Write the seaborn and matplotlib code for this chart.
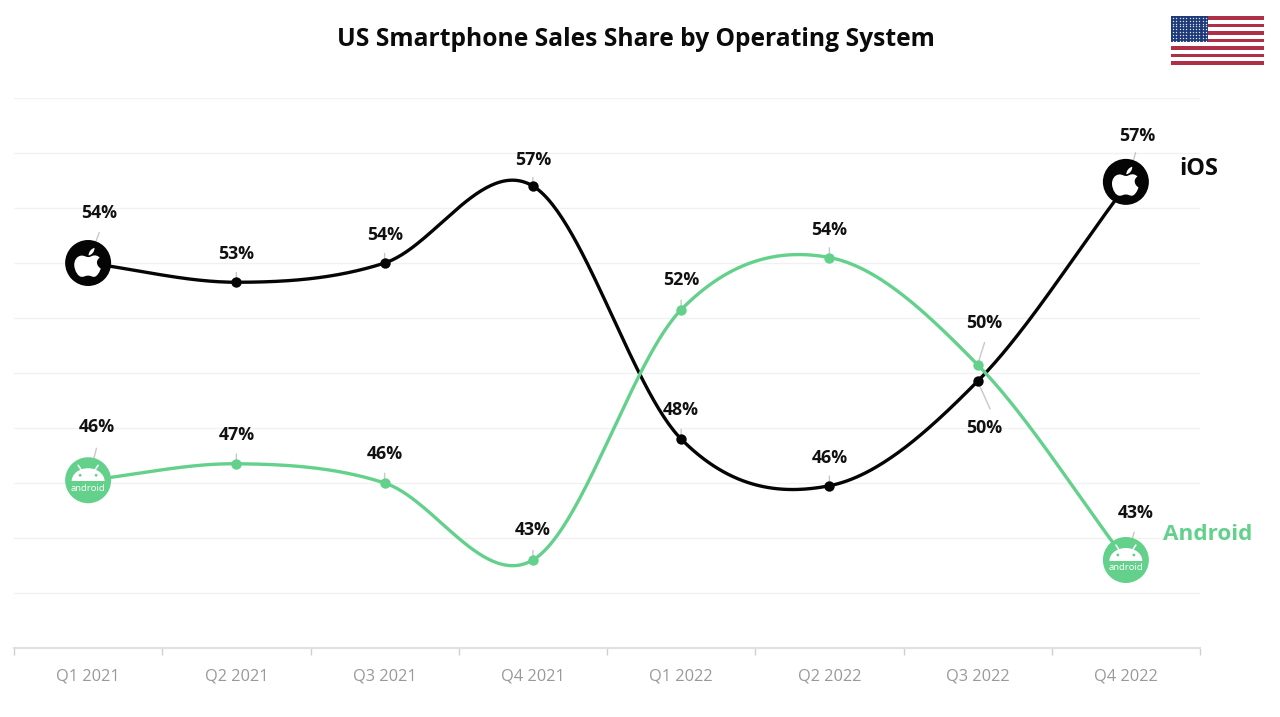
import numpy as np
import pandas as pd
import matplotlib
matplotlib.use("Agg")
import matplotlib.pyplot as plt
import seaborn as sns
from matplotlib.path import Path
from matplotlib.patches import PathPatch, Circle, Ellipse, Rectangle
from matplotlib.transforms import Affine2D

quarters = ["Q1 2021", "Q2 2021", "Q3 2021", "Q4 2021", "Q1 2022", "Q2 2022", "Q3 2022", "Q4 2022"]
ios_share = [54.0, 53.3, 54.0, 56.8, 47.6, 45.9, 49.7, 56.8]
android_share = [46.1, 46.7, 46.0, 43.2, 52.3, 54.2, 50.3, 43.2]

BLACK = "#050505"
GREEN = "#63d18b"
FONT = ["Open Sans", "DejaVu Sans"]

sns.set_theme(style="white")
plt.rcParams["font.family"] = FONT
W, H = 1280, 717
fig = plt.figure(figsize=(W / 100, H / 100), dpi=100, facecolor="white")
ax = fig.add_axes([14 / W, 1 - 648 / H, (1200 - 14) / W, (648 - 98) / H])


def catmull_rom(y, per_gap=60):
    """Dense Catmull-Rom curve through evenly spaced knots."""
    y = np.asarray(y, float)
    slopes = np.gradient(y)
    xs, ys = [], []
    for i in range(len(y) - 1):
        t = np.linspace(0, 1, per_gap, endpoint=False)
        xs.append(i + t)
        ys.append((2 * t**3 - 3 * t**2 + 1) * y[i] + (t**3 - 2 * t**2 + t) * slopes[i]
                  + (-2 * t**3 + 3 * t**2) * y[i + 1] + (t**3 - t**2) * slopes[i + 1])
    return np.r_[np.concatenate(xs), len(y) - 1], np.r_[np.concatenate(ys), y[-1]]


# Offsets of the value labels from their points, and where their leaders stop, in points
ios_offsets = [(8, 36), (0, 20), (0, 20), (0, 18.5), (0, 21), (0, 20), (5, -34), (8, 36)]
android_offsets = [(6, 38.5), (0, 21), (0, 21), (0, 21.5), (0, 21.5), (0, 20), (5, 30), (7, 33.5)]
ios_leaders = [(8, 22), (0, 7), (0, 7), (0, 6), (0, 7), (0, 7), (9, -20), (7, 24)]
android_leaders = [(6, 23), (0, 7), (0, 7), (0, 7), (0, 7), (0, 7), (5, 16), (6, 20)]

series = [(ios_share, BLACK, ios_offsets, ios_leaders), (android_share, GREEN, android_offsets, android_leaders)]
for values, colour, offsets, leaders in series:
    sx, sy = catmull_rom(values)
    curve = pd.DataFrame({"quarter": sx, "share": sy})
    points = pd.DataFrame({"quarter": np.arange(len(values)), "share": values})
    sns.lineplot(data=curve, x="quarter", y="share", color=colour, lw=2.4, ax=ax,
                 clip_on=False, zorder=3, errorbar=None, estimator=None)
    sns.scatterplot(data=points, x="quarter", y="share", color=colour, s=56, linewidth=0,
                    ax=ax, clip_on=False, zorder=4)
    for i, v in enumerate(values):
        ax.annotate("", xy=(i, v), xytext=leaders[i], textcoords="offset points",
                    arrowprops=dict(arrowstyle="-", color="#c8c8c8", lw=1, shrinkA=0, shrinkB=0), zorder=2)
        ax.annotate(f"{round(v)}%", xy=(i, v), xytext=offsets[i], textcoords="offset points",
                    ha="center", va="center", fontsize=12.8, fontweight="bold",
                    color="#111111", zorder=6)

ax.set_xlim(-0.5, 7.5)
ax.set_ylim(40, 60)
ax.set_xlabel("")
ax.set_ylabel("")
ax.set_yticks(np.arange(40, 61, 2))
ax.tick_params(axis="y", left=False, labelleft=False)
ax.grid(axis="y", color="#f1f1f1", lw=1)
ax.set_axisbelow(True)
for name in ["top", "left", "right"]:
    ax.spines[name].set_visible(False)
ax.spines["bottom"].set_color("#e0e0e0")
ax.spines["bottom"].set_linewidth(1.5)
ax.set_xticks(np.arange(-0.5, 8, 1))
ax.set_xticklabels([])
ax.tick_params(axis="x", which="major", bottom=True, length=5, color="#cfcfcf", width=1)
ax.set_xticks(np.arange(8), minor=True)
ax.set_xticklabels(quarters, minor=True)
ax.tick_params(axis="x", which="minor", bottom=False, length=0, pad=15, labelsize=11.8, labelcolor="#999999")


def pixel_frame(x, y, scale=1.0):
    px, py = ax.transData.transform((x, y))
    return Affine2D().scale(scale).translate(px, py)


APPLE_BODY = [
    (0.02, 0.28),
    (-0.10, 0.28), (-0.20, 0.37), (-0.33, 0.35),
    (-0.55, 0.33), (-0.68, 0.10), (-0.66, -0.12),
    (-0.64, -0.38), (-0.48, -0.66), (-0.30, -0.66),
    (-0.18, -0.66), (-0.12, -0.60), (0.0, -0.60),
    (0.12, -0.60), (0.18, -0.66), (0.28, -0.66),
    (0.42, -0.66), (0.56, -0.42), (0.60, -0.26),
    (0.49, -0.20), (0.42, -0.08), (0.42, 0.02),
    (0.42, 0.13), (0.48, 0.21), (0.55, 0.25),
    (0.47, 0.35), (0.36, 0.37), (0.28, 0.36),
    (0.18, 0.35), (0.10, 0.28), (0.02, 0.28),
]
APPLE_LEAF = [(0.02, 0.36), (0.02, 0.52), (0.14, 0.68), (0.30, 0.72),
              (0.32, 0.56), (0.18, 0.38), (0.02, 0.36)]


def draw_apple_badge(x, y):
    fig.add_artist(Circle((0, 0), 23, transform=pixel_frame(x, y), facecolor=BLACK, edgecolor="none", zorder=5))
    for shape in (APPLE_BODY, APPLE_LEAF):
        codes = [Path.MOVETO] + [Path.CURVE4] * (len(shape) - 1)
        fig.add_artist(PathPatch(Path(shape, codes), transform=pixel_frame(x, y, 21),
                                 facecolor="white", edgecolor="none", zorder=6))


def draw_android_badge(x, y):
    frame = pixel_frame(x, y)
    fig.add_artist(Circle((0, 0), 23, transform=frame, facecolor=GREEN, edgecolor="none", zorder=5))
    dome = Ellipse((0, -1), 33, 26, transform=frame, facecolor="white", edgecolor="none", zorder=6)
    fig.add_artist(dome)
    dome.set_clip_path(Rectangle((-20, -1), 40, 16, transform=frame))
    for side in (-1, 1):
        fig.add_artist(plt.Line2D([side * 6, side * 10], [9, 15], transform=frame, color="white", lw=1.1, zorder=6))
        fig.add_artist(Circle((side * 8, 5), 1.4, transform=frame, facecolor=GREEN, edgecolor="none", zorder=7))
    fig.text(0, -8, "android", transform=frame, color="white", fontsize=6.8, ha="center", va="center", zorder=7)


draw_apple_badge(0, ios_share[0])
draw_apple_badge(7, 56.95)
draw_android_badge(0, android_share[0])
draw_android_badge(7, android_share[-1])

fig.text(636 / W, 1 - 39.5 / H, "US Smartphone Sales Share by Operating System", ha="center", va="center",
         fontsize=17.7, fontweight="bold", color="#0b0b0b")
fig.text(1199 / W, 1 - 169 / H, "iOS", ha="center", va="center", fontsize=17, fontweight="bold", color="#0b0b0b")
fig.text(1208 / W, 1 - 535 / H, "Android", ha="center", va="center", fontsize=16.2, fontweight="bold", color=GREEN)

# US flag in the top right corner
flag = fig.add_axes([1171 / W, 1 - 65 / H, 93 / W, 49 / H])
flag.set_xlim(0, 93)
flag.set_ylim(13, 0)
flag.axis("off")
for stripe in range(13):
    flag.add_patch(Rectangle((0, stripe), 93, 1, facecolor="#ad3048" if stripe % 2 == 0 else "white", edgecolor="none"))
flag.add_patch(Rectangle((0, 0), 37, 7, facecolor="#1f3a78", edgecolor="none"))
star_x, star_y = np.meshgrid(np.linspace(2, 35, 11), np.linspace(0.5, 6.5, 9))
flag.scatter(star_x, star_y, s=1.0, c="#dfe6f2", linewidths=0)

fig.savefig("out.png", dpi=100, facecolor="white")
